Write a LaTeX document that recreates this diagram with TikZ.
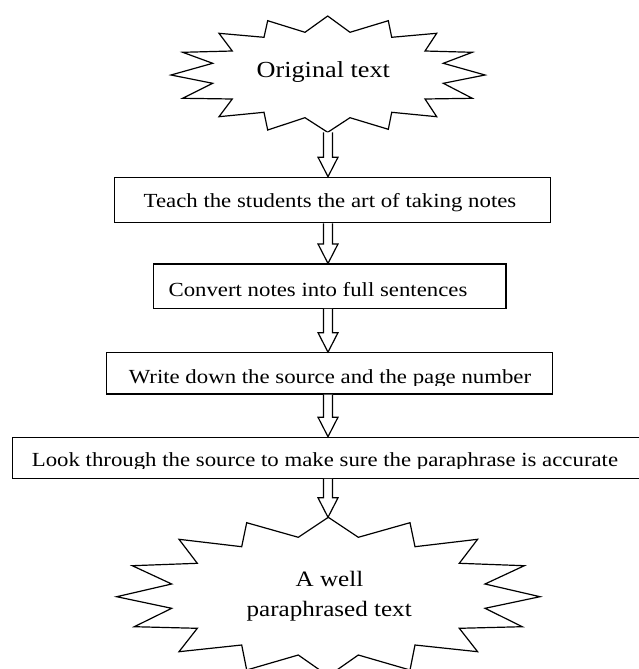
\documentclass[tikz,border=0pt]{standalone}
\usepackage{fontspec}
\setmainfont{Liberation Serif}[FakeStretch=1.14]
\usetikzlibrary{calc}
\tikzset{
  outline/.style={draw=black, line width=1.2pt, line join=miter},
  stepbox/.style={rectangle, draw=black, line width=1.2pt, inner sep=0pt},
  lbl/.style={inner sep=0pt, anchor=base, font=\fontsize{20}{24}\selectfont},
  starlbl/.style={inner sep=0pt, anchor=base, font=\fontsize{23}{27}\selectfont},
  blockarrow/.style={draw=black, fill=white, line width=1.2pt, line join=miter}
}
\newcommand{\blockarr}[2]{%
  \draw[blockarrow] let \p1=(#1), \p2=(#2) in
    (\x2-4.5pt,\y1) -- (\x2-4.5pt,\y2+19.5pt) -- (\x2-10pt,\y2+19.5pt) --
    (\x2,\y2) -- (\x2+10pt,\y2+19.5pt) -- (\x2+4.5pt,\y2+19.5pt) -- (\x2+4.5pt,\y1);
}
\begin{document}
\begin{tikzpicture}[x=1pt, y=-1pt]
\useasboundingbox (0,0) rectangle (638,669);
\coordinate (ax) at (328,0);

% top starburst
\draw[outline] (327.7,16) -- (305,32.3) -- (267.7,20.7) -- (264,37.3) -- (219,33.3) -- (232.3,51) -- (182.7,52.3) -- (212.7,63.3) -- (171,75) -- (212.7,83.3) -- (182.7,98.3) -- (232.3,99) -- (219,116.7) -- (264,112.3) -- (267.7,130) -- (305,117.7) -- (327.7,132.3) -- (350,117.7) -- (388.3,129.3) -- (391.7,112.3) -- (436.7,116.7) -- (425,99) -- (472.3,98.3) -- (443.3,83.3) -- (485,75) -- (443.3,63.3) -- (472.3,52.3) -- (425,51) -- (436.7,33.3) -- (391.7,37.3) -- (388.3,20.7) -- (350,32.3) -- cycle;
\coordinate (s1b) at (328,132.3);
\node[starlbl] (t0) at (323.3,77.3) {Original text};

% boxes
\node[stepbox, minimum width=436.4pt, minimum height=45.4pt] (b1) at (332.5,200) {};
\node[lbl] (t1) at (330,207.3) {Teach the students the art of taking notes};

\node[stepbox, minimum width=352.7pt, minimum height=44.3pt] (b2) at (329.7,286.2) {};
\node[lbl] (t2) at (318,296) {Convert notes into full sentences};

\node[stepbox, minimum width=445.6pt, minimum height=41.3pt] (b3) at (329.5,373.4) {};
\begin{scope}
  \clip (0,0) rectangle (638,385.5);
  \node[lbl] (t3) at (330,383.3) {Write down the source and the page number};
\end{scope}

\node[stepbox, minimum width=647.3pt, minimum height=41pt] (b4) at (336.35,457.8) {};
\begin{scope}
  \clip (0,0) rectangle (638,468.5);
  \node[lbl] (t4) at (325,466.7) {Look through the source to make sure the paraphrase is accurate};
\end{scope}

% bottom starburst
\draw[outline] (328.3,517.3) -- (298.3,537.3) -- (246.7,522.7) -- (241.7,546.7) -- (179,539.3) -- (197.3,563.3) -- (132.3,565.7) -- (171.7,584) -- (116.7,596.7) -- (171.7,608.3) -- (134.3,626.7) -- (197.3,628.3) -- (179,651.7) -- (241.7,645) -- (246.7,670) -- (298.3,655) -- (328.3,676) -- (358.3,655) -- (410,670) -- (415,645) -- (477.6,651.7) -- (459.3,628.3) -- (522.3,626.7) -- (485,608.3) -- (540,596.7) -- (485,584) -- (524.3,565.7) -- (459.3,563.3) -- (477.6,539.3) -- (415,546.7) -- (410,522.7) -- (358.3,537.3) -- cycle;
\coordinate (s2t) at (328,517.3);
\node[starlbl, font=\fontsize{22}{26}\selectfont] (w1) at (329.5,586.7) {A well};
\node[starlbl, font=\fontsize{22}{26}\selectfont] (w2) at (329.2,616.7) {paraphrased text};

% block arrows
\blockarr{s1b}{b1.north -| ax}
\blockarr{b1.south -| ax}{b2.north -| ax}
\blockarr{b2.south -| ax}{b3.north -| ax}
\blockarr{b3.south -| ax}{b4.north -| ax}
\blockarr{b4.south -| ax}{s2t}
\end{tikzpicture}
\end{document}
